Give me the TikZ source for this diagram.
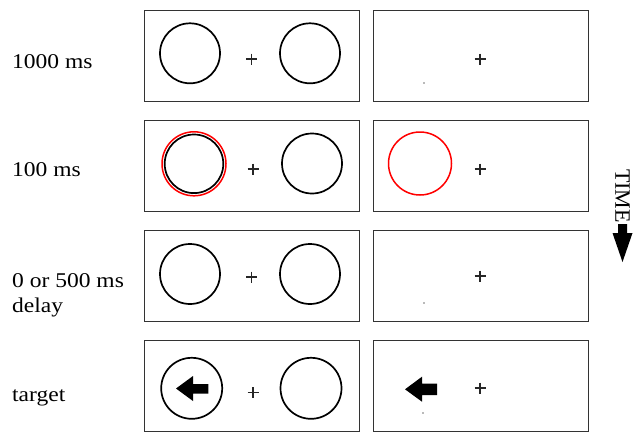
\documentclass[tikz,border=0pt]{standalone}
\usepackage{fontspec}
\setmainfont{Liberation Serif}
\begin{document}
\begin{tikzpicture}[x=1pt,y=-1pt,
  framebox/.style={draw=black!80,line width=1.3pt},
  ring/.style={draw=black,line width=1.7pt},
  redring/.style={draw=red,line width=1.5pt},
  fix/.style={draw=black!85,line width=1.1pt},
  lbl/.style={anchor=west,inner sep=0pt,font=\fontsize{21}{25}\selectfont,align=left},
  speck/.style={fill=black!55,draw=none}]
\useasboundingbox (0,0) rectangle (634,431);
\clip (0,0) rectangle (634,431);
% frames
\foreach \t [count=\i] in {10.5,120.7,230.7,340.5}{
  \draw[framebox] (144.5,\t) rectangle (359.5,\t+91);
  \draw[framebox] (373.5,\t) rectangle (588.5,\t+91);
}
% row 1
\draw[ring] (190,53.3) circle (30);
\draw[ring] (310,53.3) circle (30);
\draw[fix] (246,59)--(257,59) (251.5,53.5)--(251.5,64.5);
\draw[fix] (474.5,59)--(485.5,59) (480,53.5)--(480,64.5);
\fill[speck] (424,83) circle (0.8);
% row 2
\draw[redring] (194,163.8) circle (32);
\draw[ring] (194,163.8) circle (29.3);
\draw[ring] (312,163.5) circle (30);
\draw[fix] (247.5,169)--(258.5,169) (253,163.5)--(253,174.5);
\draw[redring] (420,163.5) circle (31.5);
\draw[fix] (474.5,169)--(485.5,169) (480,163.5)--(480,174.5);
% row 3
\draw[ring] (190,274) circle (30);
\draw[ring] (310,274) circle (30);
\draw[fix] (246,277)--(257,277) (251.5,271.5)--(251.5,282.5);
\draw[fix] (474.5,276)--(485.5,276) (480,270.5)--(480,281.5);
\fill[speck] (424,303) circle (0.8);
% row 4
\draw[ring] (191.7,388.3) circle (30.5);
\draw[ring] (311,388.3) circle (30.5);
\fill (176,388.5) -- (193,376) -- (193,384) -- (208.3,384) -- (208.3,393.5) -- (193,393.5) -- (193,401) -- cycle;
\fill (405,389.3) -- (422,376.7) -- (422,383.5) -- (437,383.5) -- (437,395) -- (422,395) -- (422,401.7) -- cycle;
\draw[fix] (247.5,392.5)--(258.5,392.5) (253,387)--(253,398);
\draw[fix] (474.5,388)--(485.5,388) (480,382.5)--(480,393.5);
\fill[speck] (423,413) circle (0.8);
% labels
\node[lbl] (l1) at (12,62) {\scalebox{1.12}[1]{1000 ms}};
\node[lbl] (l2) at (12,170) {\scalebox{1.12}[1]{100 ms}};
\node[lbl] (l3) at (12,281) {\scalebox{1.12}[1]{0 or 500 ms}};
\node[lbl] (l4) at (12,307) {\scalebox{1.12}[1]{delay}};
\node[lbl] (l5) at (12,398) {\scalebox{1.12}[1]{target}};
% TIME
\node[rotate=-90,inner sep=0pt,font=\fontsize{22}{26}\selectfont] (time) at (622.5,196) {TIME};
\fill (618,224) -- (627,224) -- (627,233) -- (632.5,233) -- (622.5,262) -- (612.5,233) -- (618,233) -- cycle;
\end{tikzpicture}
\end{document}
